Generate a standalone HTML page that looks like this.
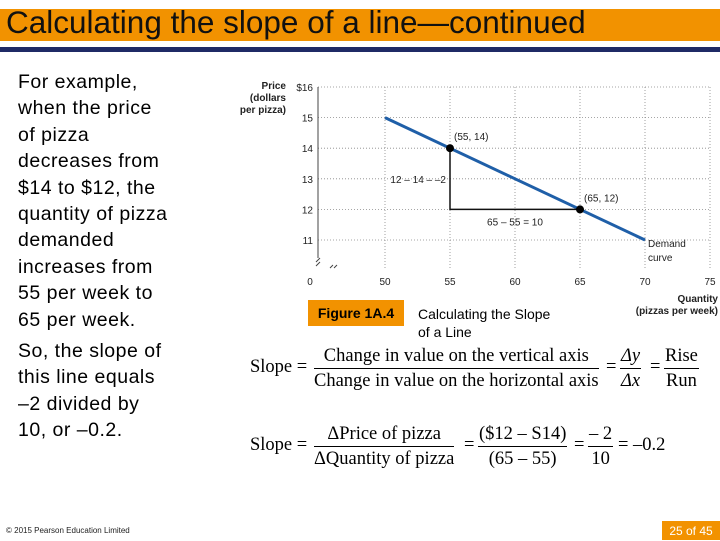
<!DOCTYPE html>
<html><head><meta charset="utf-8"><style>
body{margin:0;width:720px;height:540px;position:relative;background:#fff;overflow:hidden;font-family:"Liberation Sans",sans-serif}
.a{position:absolute}
.f{font-family:"Liberation Serif",serif;font-size:18.5px;color:#000}
.fr{position:absolute;text-align:center;white-space:nowrap;line-height:24px}
.fr .n{border-bottom:1.3px solid #000;padding:0 1px}
</style></head><body>
<div class="a" style="left:0;top:9px;width:720px;height:32px;background:#f29200"></div>
<div class="a" style="left:6px;top:4px;font-size:31.5px;color:#111;white-space:nowrap">Calculating the slope of a line—continued</div>
<div class="a" style="left:0;top:47px;width:720px;height:5px;background:#1f2a66"></div>
<div class="a" style="left:18px;top:69px;font-size:19.5px;letter-spacing:0.5px;line-height:26.4px;color:#000;white-space:nowrap">For example,<br>when the price<br>of pizza<br>decreases from<br>$14 to $12, the<br>quantity of pizza<br>demanded<br>increases from<br>55 per week to<br>65 per week.<div style="margin-top:5px">So, the slope of<br>this line equals<br>–2 divided by<br>10, or –0.2.</div></div>
<svg class="a" style="left:0;top:0" width="720" height="540" id="ch" font-family="Liberation Sans, sans-serif"></svg>
<div class="a" style="left:308px;top:300px;width:96px;height:26px;background:#f29200;font-size:14px;font-weight:bold;line-height:26px;text-align:center">Figure 1A.4</div>
<div class="a" style="left:418px;top:305px;font-size:14px;line-height:18px">Calculating the Slope<br>of a Line</div>
<div class="a" style="left:600px;top:294px;width:118px;text-align:right;font-size:10px;font-weight:bold;line-height:12px;color:#222">Quantity<br>(pizzas per week)</div>
<div class="a" style="left:230px;top:81px;width:56px;text-align:right;font-size:10px;font-weight:bold;line-height:12px;color:#222">Price<br>(dollars<br>per pizza)</div>
<div class="a f" style="left:250px;top:344px;width:470px;height:50px">
 <span class="a" style="left:0;top:13px">Slope =</span>
 <div class="fr" style="left:64px;top:0"><div class="n">Change in value on the vertical axis</div><div>Change in value on the horizontal axis</div></div>
 <span class="a" style="left:356px;top:13px">=</span>
 <div class="fr" style="left:370px;top:0"><div class="n"><i>Δy</i></div><div><i>Δx</i></div></div>
 <span class="a" style="left:400px;top:13px">=</span>
 <div class="fr" style="left:414px;top:0"><div class="n">Rise</div><div>Run</div></div>
</div>
<div class="a f" style="left:250px;top:422px;width:470px;height:50px">
 <span class="a" style="left:0;top:13px">Slope =</span>
 <div class="fr" style="left:64px;top:0"><div class="n">ΔPrice of pizza</div><div>ΔQuantity of pizza</div></div>
 <span class="a" style="left:214px;top:13px">=</span>
 <div class="fr" style="left:228px;top:0"><div class="n">($12 – S14)</div><div>(65 – 55)</div></div>
 <span class="a" style="left:324px;top:13px">=</span>
 <div class="fr" style="left:338px;top:0"><div class="n">– 2</div><div>10</div></div>
 <span class="a" style="left:368px;top:13px">= –0.2</span>
</div>
<div class="a" style="left:6px;top:526px;font-size:8px;color:#222">© 2015 Pearson Education Limited</div>
<div class="a" style="left:662px;top:521px;width:58px;height:19px;background:#f29200;color:#fff;font-size:12px;line-height:20px;text-align:center">25 of 45</div>
<script>
const xTicks=[50,55,60,65,70,75];
const yTicks=[11,12,13,14,15,16];
const demandQ=[50,70];
const demandP=[15,11];
const pointsQ=[55,65];
const pointsP=[14,12];
const pointLabels=["(55, 14)","(65, 12)"];
const X=q=>385+(q-50)*13, Y=p=>87+(16-p)*30.6;
const s=document.getElementById('ch'),NS='http://www.w3.org/2000/svg';
function e(t,a,txt){const el=document.createElementNS(NS,t);for(const k in a)el.setAttribute(k,a[k]);if(txt!=null)el.textContent=txt;s.appendChild(el);return el;}
const L=318,B=270;
yTicks.forEach(v=>{const g=e('line',{x1:L,x2:710,y1:Y(v),y2:Y(v),stroke:'#888','stroke-dasharray':'1 2','stroke-width':0.8});

const t=e('text',{x:313,y:Y(v)+4,'text-anchor':'end','font-size':10,fill:'#222'},(v==16?'$':'')+v);
});
xTicks.forEach(v=>{const g=e('line',{x1:X(v),x2:X(v),y1:87,y2:B,stroke:'#888','stroke-dasharray':'1 2','stroke-width':0.8});

const t=e('text',{x:X(v),y:285,'text-anchor':'middle','font-size':10,fill:'#222'},v);
});
e('text',{x:310,y:285,'text-anchor':'middle','font-size':10,fill:'#222'},'0');
e('line',{x1:L,x2:L,y1:87,y2:258,stroke:'#444','stroke-width':1});
e('path',{d:'M316 262 L320 258 M316 266 L320 262 M330 268 L333 265 M334 268 L337 265',stroke:'#444',fill:'none'});
const dl=e('line',{x1:X(demandQ[0]),y1:Y(demandP[0]),x2:X(demandQ[1]),y2:Y(demandP[1]),stroke:'#1f5fa8','stroke-width':3});

const tri=e('path',{d:`M${X(pointsQ[0])} ${Y(pointsP[0])} V${Y(pointsP[1])} H${X(pointsQ[1])}`,stroke:'#111','stroke-width':1.5,fill:'none'});

pointsQ.forEach((q,i)=>{const c=e('circle',{cx:X(q),cy:Y(pointsP[i]),r:4,fill:'#000'});

const t=e('text',{x:X(q)+4,y:Y(pointsP[i])-8,'font-size':10,fill:'#222'},pointLabels[i]);
});
e('text',{x:446,y:Y(13)+4,'text-anchor':'end','font-size':10,fill:'#222'},'12 – 14 – –2');
e('text',{x:X(60),y:Y(12)+16,'text-anchor':'middle','font-size':10,fill:'#222'},'65 – 55 = 10');
e('text',{x:648,y:247,'font-size':10,fill:'#222'},'Demand');
e('text',{x:648,y:261,'font-size':10,fill:'#222'},'curve');
</script>
</body></html>
